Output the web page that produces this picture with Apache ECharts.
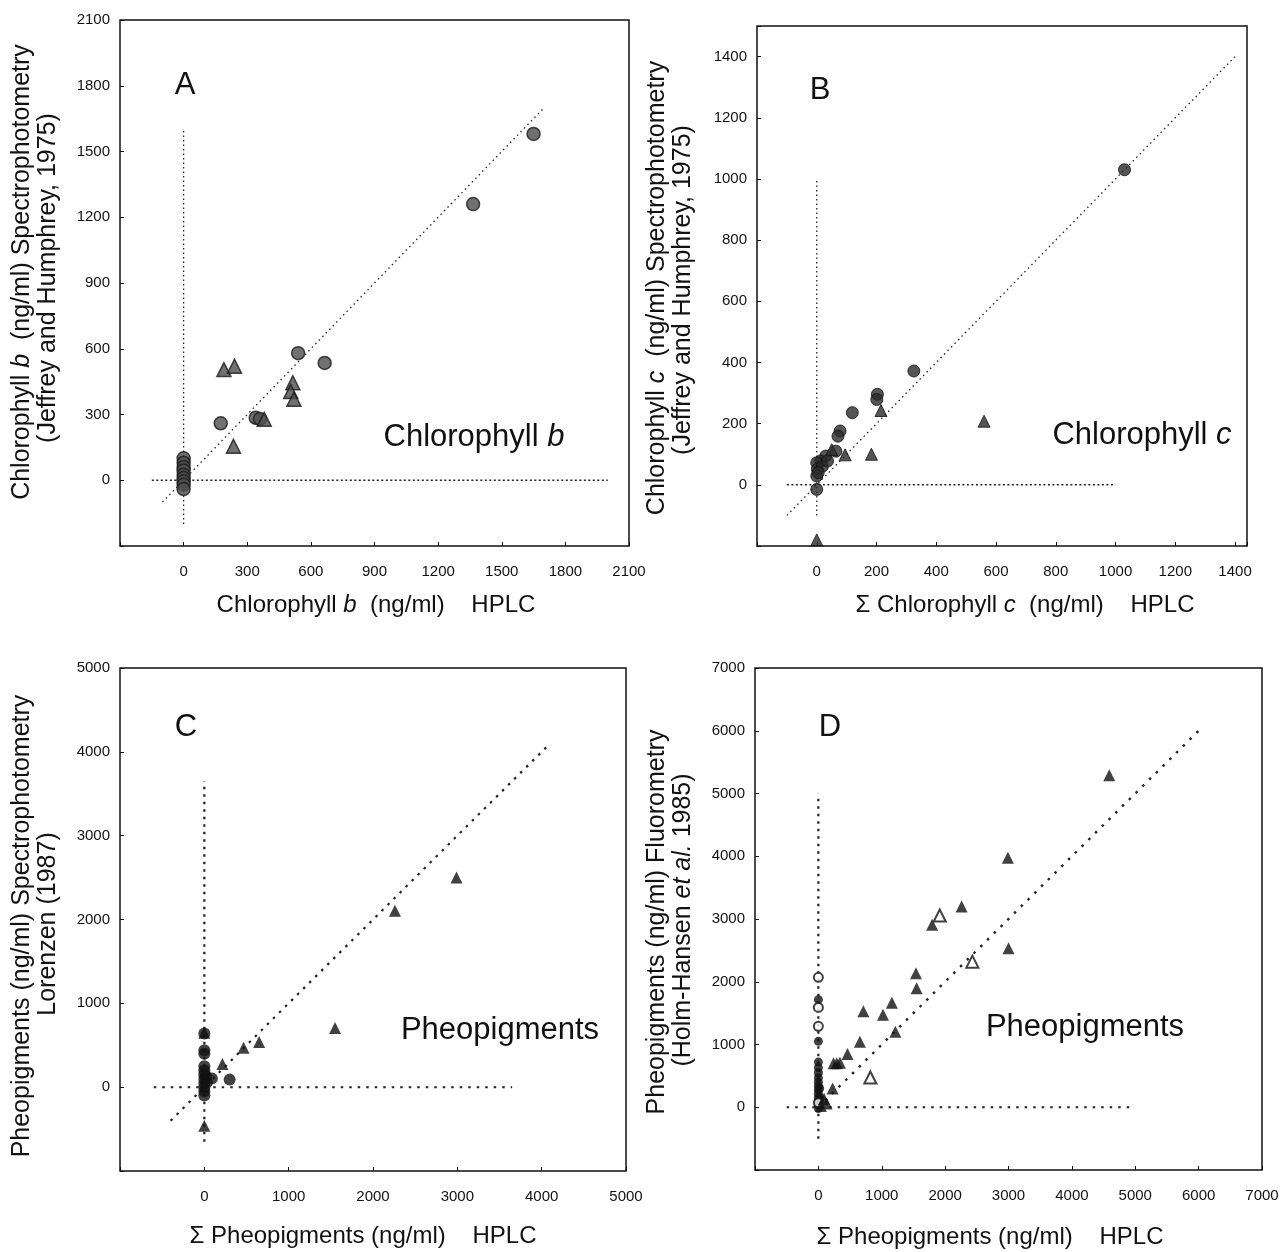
<!DOCTYPE html>
<html>
<head>
<meta charset="utf-8">
<title>Chlorophyll b, c and pheopigments: HPLC vs spectrophotometry / fluorometry</title>
<script src="https://cdn.jsdelivr.net/npm/echarts/dist/echarts.min.js"></script>
<style>
  html, body { margin: 0; padding: 0; background: #fff; }
  #chart { width: 1282px; height: 1252px; }
</style>
</head>
<body>
<div id="chart"></div>
<script>
// ---- panel A : chlorophyll b ----
var aCircles = [[1650, 1580], [1365, 1260], [540, 580], [665, 535], [175, 260], [340, 285], [360, 280],
  [0, 100], [0, 80], [0, 60], [0, 45], [0, 25], [0, 10], [0, -5], [0, -20], [0, -40]];
var aTriangles = [[190, 505], [240, 520], [515, 445], [505, 405], [520, 370], [380, 278], [235, 155]];
var aVertical = [[0, -200], [0, 1600]];
var aHorizontal = [[-150, 0], [2000, 0]];
var aDiagonal = [[-100, -100], [1700, 1700]];

// ---- panel B : chlorophyll c ----
var bCircles = [[1030, 1030], [325, 372], [203, 296], [201, 279], [119, 236], [78, 176], [71, 159],
  [64, 110], [30, 94], [13, 78], [0, 72], [2, 51], [19, 61], [36, 78], [0, 29], [5, 40], [0, -15]];
var bTriangles = [[560, 208], [183, 100], [95, 98], [50, 115], [215, 243], [0, -180]];
var bVertical = [[0, -100], [0, 1000]];
var bHorizontal = [[-100, 0], [1000, 0]];
var bDiagonal = [[-100, -100], [1400, 1400]];

// ---- panel C : pheopigments, spectrophotometry ----
var cCircles = [[0, 640], [0, 440], [0, 400], [0, 250], [0, 200], [0, 150], [0, 100], [0, 50],
  [0, 0], [0, -50], [0, -100], [89, 104], [300, 90], [20, 130], [30, 60]];
var cTriangles = [[2260, 2105], [2990, 2500], [1550, 705], [650, 538], [465, 470], [215, 275], [0, -460], [0, 650]];
var cVertical = [[0, -650], [0, 3650]];
var cHorizontal = [[-600, 0], [3650, 0]];
var cDiagonal = [[-400, -400], [4100, 4100]];

// ---- panel D : pheopigments, fluorometry ----
var dCircles = [[0, 1715], [0, 1050], [0, 720], [0, 630], [0, 550], [0, 470], [0, 400], [0, 340],
  [0, 280], [0, 220], [0, 160], [0, 100], [0, 40], [0, -20], [20, 300], [30, 150]];
var dOpenCircles = [[0, 2070], [0, 1590], [0, 1290], [0, 70]];
var dTriangles = [[4590, 5290], [2990, 3975], [2260, 3200], [1795, 2910], [3000, 2535], [1540, 2135],
  [1550, 1895], [1160, 1665], [710, 1530], [1020, 1475], [1215, 1205], [655, 1045], [460, 850],
  [240, 700], [290, 700], [340, 710], [225, 300], [90, 130], [130, 60], [40, 20]];
var dOpenTriangles = [[1915, 3055], [2430, 2320], [820, 475]];
var dVertical = [[0, -500], [0, 5000]];
var dHorizontal = [[-500, 0], [5000, 0]];
var dDiagonal = [[0, 0], [6000, 6000]];

var FONT = '"Liberation Sans", Arial, Helvetica, sans-serif';
var INK = '#111';

function valueAxis(gi, min, max, step, lastLabel, isY) {
  return {
    type: 'value', gridIndex: gi, min: min, max: max, interval: step,
    axisLine: { show: false, onZero: false },
    splitLine: { show: false },
    axisTick: { show: true, inside: true, length: 4, lineStyle: { color: INK, width: 1 } },
    axisLabel: {
      margin: isY ? 10 : 18, fontSize: 15, fontFamily: FONT, color: INK,
      formatter: function (v) {
        return (v >= 0 && v <= lastLabel && v % step === 0) ? String(v) : '';
      }
    }
  };
}

function points(gi, data, symbol, size, style) {
  return { type: 'scatter', xAxisIndex: gi, yAxisIndex: gi, data: data,
    symbol: symbol, symbolSize: size, itemStyle: style, z: 4, silent: true };
}

function refLine(gi, data, width, dash) {
  return { type: 'line', xAxisIndex: gi, yAxisIndex: gi, data: data, symbol: 'none',
    lineStyle: { color: '#222', width: width, type: dash }, z: 2, silent: true };
}

function label(x, y, txt, size, rot, rich) {
  var st = { text: txt, fontSize: size, fontFamily: FONT, fill: INK,
    align: 'center', verticalAlign: 'middle' };
  if (rich) st.rich = rich;
  return { type: 'text', x: x, y: y, rotation: rot || 0, style: st, silent: true };
}

var itA = { it: { fontStyle: 'italic', fontSize: 24, fontFamily: FONT, fill: INK } };
var itY = { it: { fontStyle: 'italic', fontSize: 25, fontFamily: FONT, fill: INK } };
var itBig = { it: { fontStyle: 'italic', fontSize: 31, fontFamily: FONT, fill: INK } };
var UP = Math.PI / 2;

var greyDot = { color: '#4e4e4e', borderColor: '#1a1a1a', borderWidth: 1.5 };
var darkDot = { color: '#2a2a2a', borderColor: '#111', borderWidth: 1 };
var blackDot = { color: '#111' };
var openDot = { color: '#fff', borderColor: '#111', borderWidth: 2 };

var dom = document.getElementById('chart');
var myChart = echarts.init(dom);
var option = {
  animation: false,
  backgroundColor: '#fff',
  grid: [
    { left: 120, top: 20, width: 509, height: 526, show: true, borderColor: INK, borderWidth: 1.5 },
    { left: 757, top: 26, width: 490, height: 520, show: true, borderColor: INK, borderWidth: 1.5 },
    { left: 120, top: 668, width: 506, height: 503, show: true, borderColor: INK, borderWidth: 1.5 },
    { left: 755, top: 668, width: 507, height: 502, show: true, borderColor: INK, borderWidth: 1.5 }
  ],
  xAxis: [
    valueAxis(0, -300, 2100, 300, 2100, false),
    valueAxis(1, -200, 1440, 200, 1400, false),
    valueAxis(2, -1000, 5000, 1000, 5000, false),
    valueAxis(3, -1000, 7000, 1000, 7000, false)
  ],
  yAxis: [
    valueAxis(0, -300, 2100, 300, 2100, true),
    valueAxis(1, -200, 1500, 200, 1400, true),
    valueAxis(2, -1000, 5000, 1000, 5000, true),
    valueAxis(3, -1000, 7000, 1000, 7000, true)
  ],
  series: [
    refLine(0, aVertical, 1.3, [1.5, 3]),
    refLine(0, aHorizontal, 1.5, [2, 2.5]),
    refLine(0, aDiagonal, 1.3, [1.5, 3.5]),
    points(0, aCircles, 'circle', 13, greyDot),
    points(0, aTriangles, 'triangle', 14, greyDot),

    refLine(1, bVertical, 1.3, [1.5, 3]),
    refLine(1, bHorizontal, 1.5, [2, 2.5]),
    refLine(1, bDiagonal, 1.3, [1.5, 3.5]),
    points(1, bCircles, 'circle', 12, darkDot),
    points(1, bTriangles, 'triangle', 12, darkDot),

    refLine(2, cVertical, 2.2, [2.5, 5]),
    refLine(2, cHorizontal, 2, [2.5, 6]),
    refLine(2, cDiagonal, 2.2, [2.5, 6]),
    points(2, cCircles, 'circle', 12, blackDot),
    points(2, cTriangles, 'triangle', 12, blackDot),

    refLine(3, dVertical, 2.2, [2.5, 5]),
    refLine(3, dHorizontal, 2, [2.5, 6]),
    refLine(3, dDiagonal, 2.4, [2.5, 7]),
    points(3, dCircles, 'circle', 9, blackDot),
    points(3, dOpenCircles, 'circle', 9, openDot),
    points(3, dTriangles, 'triangle', 12, blackDot),
    points(3, dOpenTriangles, 'triangle', 12, openDot)
  ],
  graphic: [
    // panel letters
    label(185, 85, 'A', 31),
    label(820, 90, 'B', 31),
    label(186, 727, 'C', 31),
    label(830, 727, 'D', 31),
    // panel titles inside the plots
    label(474, 437, 'Chlorophyll {it|b}', 31, 0, itBig),
    label(1142, 435, 'Chlorophyll {it|c}', 31, 0, itBig),
    label(500, 1030, 'Pheopigments', 31),
    label(1085, 1027, 'Pheopigments', 31),
    // x axis names
    label(376, 605, 'Chlorophyll {it|b}  (ng/ml)    HPLC', 24, 0, itA),
    label(1025, 605, 'Σ Chlorophyll {it|c}  (ng/ml)    HPLC', 24, 0, itA),
    label(363, 1236, 'Σ Pheopigments (ng/ml)    HPLC', 24),
    label(990, 1237, 'Σ Pheopigments (ng/ml)    HPLC', 24),
    // y axis names
    label(22, 272, 'Chlorophyll {it|b}  (ng/ml) Spectrophotometry', 25, UP, itY),
    label(48, 278, '(Jeffrey and Humphrey, 1975)', 25, UP),
    label(657, 288, 'Chlorophyll {it|c}  (ng/ml) Spectrophotometry', 25, UP, itY),
    label(683, 290, '(Jeffrey and Humphrey, 1975)', 25, UP),
    label(22, 926, 'Pheopigments (ng/ml) Spectrophotometry', 25, UP),
    label(48, 924, 'Lorenzen (1987)', 25, UP),
    label(657, 922, 'Pheopigments (ng/ml) Fluorometry', 25, UP),
    label(683, 920, '(Holm-Hansen {it|et al.} 1985)', 25, UP, itY)
  ]
};

if (option && typeof option === 'object') {
  myChart.setOption(option, true);
}
</script>
</body>
</html>
